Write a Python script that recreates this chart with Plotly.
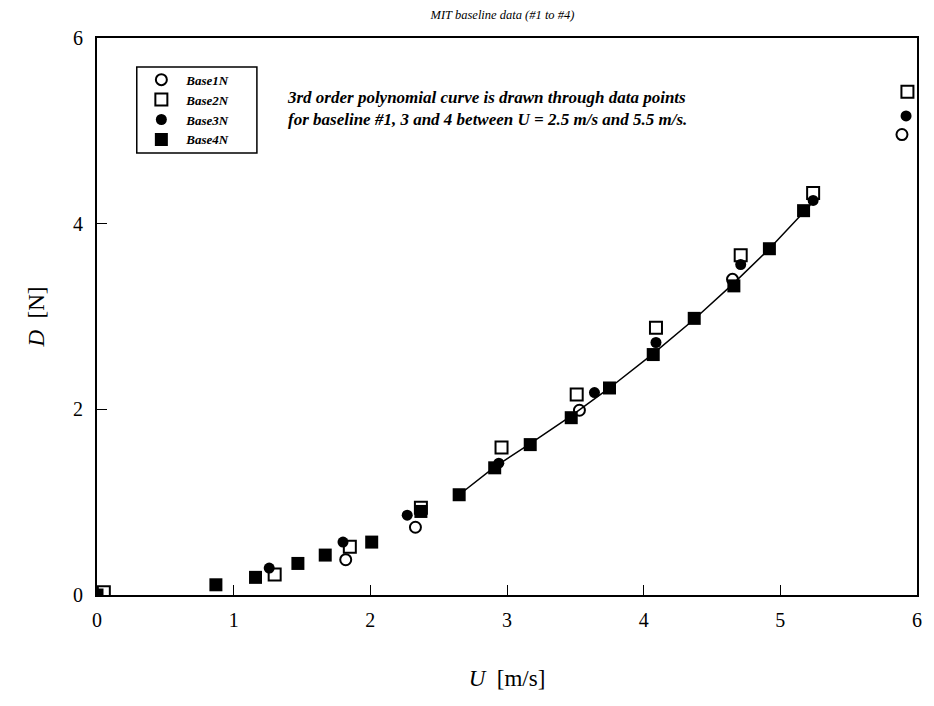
import plotly.graph_objects as go

# Data
base1_u = [1.82, 2.33, 3.53, 4.65, 5.89]
base1_d = [0.38, 0.73, 1.99, 3.40, 4.96]

base2_u = [0.05, 1.30, 1.85, 2.37, 2.96, 3.51, 4.09, 4.71, 5.24, 5.93]
base2_d = [0.03, 0.22, 0.52, 0.94, 1.59, 2.16, 2.88, 3.66, 4.33, 5.42]

base3_u = [1.26, 1.80, 2.27, 2.94, 3.64, 4.09, 4.71, 5.24, 5.92]
base3_d = [0.29, 0.57, 0.86, 1.42, 2.18, 2.72, 3.56, 4.25, 5.16]

base4_u = [0.0, 0.87, 1.16, 1.47, 1.67, 2.01, 2.37, 2.65, 2.91, 3.17, 3.47, 3.75,
           4.07, 4.37, 4.66, 4.92, 5.17]
base4_d = [0.0, 0.11, 0.19, 0.34, 0.43, 0.57, 0.90, 1.08, 1.37, 1.62, 1.91, 2.23,
           2.59, 2.98, 3.33, 3.73, 4.14]

fit_u = [2.65, 2.91, 3.17, 3.47, 3.75, 4.07, 4.37, 4.66, 4.92, 5.22]
fit_d = [1.08, 1.38, 1.63, 1.93, 2.23, 2.60, 2.97, 3.36, 3.73, 4.20]

x_ticks = [0, 1, 2, 3, 4, 5, 6]
y_ticks = [0, 2, 4, 6]

SERIF = "Liberation Serif"

fig = go.Figure()

fig.add_trace(go.Scatter(x=fit_u, y=fit_d, mode="lines",
                         line=dict(color="black", width=1.5),
                         showlegend=False, hoverinfo="skip"))

fig.add_trace(go.Scatter(x=base1_u, y=base1_d, mode="markers", name="Base1N",
                         marker=dict(symbol="circle-open", size=11,
                                     color="black", line=dict(width=2, color="black"))))
fig.add_trace(go.Scatter(x=base2_u, y=base2_d, mode="markers", name="Base2N",
                         marker=dict(symbol="square-open", size=12,
                                     color="black", line=dict(width=2, color="black"))))
fig.add_trace(go.Scatter(x=base3_u, y=base3_d, mode="markers", name="Base3N",
                         marker=dict(symbol="circle", size=11, color="black")))
fig.add_trace(go.Scatter(x=base4_u, y=base4_d, mode="markers", name="Base4N",
                         marker=dict(symbol="square", size=13, color="black")))

fig.update_layout(
    width=934, height=706,
    margin=dict(l=97, r=12, t=38, b=111),
    paper_bgcolor="white", plot_bgcolor="white",
    font=dict(family=SERIF, color="black"),
    title=dict(text="MIT baseline data (#1 to #4)", x=0.538, xanchor="center",
               y=0.985, yanchor="top",
               font=dict(family=SERIF, size=12.5, style="italic", color="black")),
    legend=dict(x=0.048, y=0.952, xanchor="left", yanchor="top",
                borderwidth=0, bgcolor="rgba(0,0,0,0)",
                font=dict(family=SERIF, size=13, style="italic", weight="bold",
                          color="black"),
                tracegroupgap=0, itemwidth=40),
    shapes=[dict(type="rect", xref="paper", yref="paper",
                 x0=0.0485, x1=0.195, y0=0.7935, y1=0.948,
                 line=dict(color="black", width=1.5), layer="above")],
    xaxis=dict(range=[0, 6], tickvals=x_ticks, ticktext=[str(v) for v in x_ticks],
               ticks="inside", ticklen=10, tickcolor="black",
               showline=True, linecolor="black", linewidth=2, mirror=True,
               showgrid=False, zeroline=False,
               tickfont=dict(family=SERIF, size=20, color="black"),
               ticklabelstandoff=6,
               title=dict(text="<i>U</i>  [m/s]", standoff=40,
                          font=dict(family=SERIF, size=23, color="black"))),
    yaxis=dict(range=[0, 6], tickvals=y_ticks, ticktext=[str(v) for v in y_ticks],
               ticks="inside", ticklen=10, tickcolor="black",
               showline=True, linecolor="black", linewidth=2, mirror=True,
               showgrid=False, zeroline=False,
               tickfont=dict(family=SERIF, size=20, color="black"),
               ticklabelstandoff=8,
               title=dict(text="<i>D</i>  [N]", standoff=22,
                          font=dict(family=SERIF, size=23, color="black"))),
)

fig.add_annotation(
    text="3rd order polynomial curve is drawn through data points<br>"
         "for baseline #1, 3 and 4 between U = 2.5 m/s and 5.5 m/s.",
    xref="paper", yref="paper", x=0.229, y=0.913, xanchor="left", yanchor="top",
    align="left", showarrow=False,
    font=dict(family=SERIF, size=17, style="italic", weight="bold", color="black"))

fig.write_html("out.html")
